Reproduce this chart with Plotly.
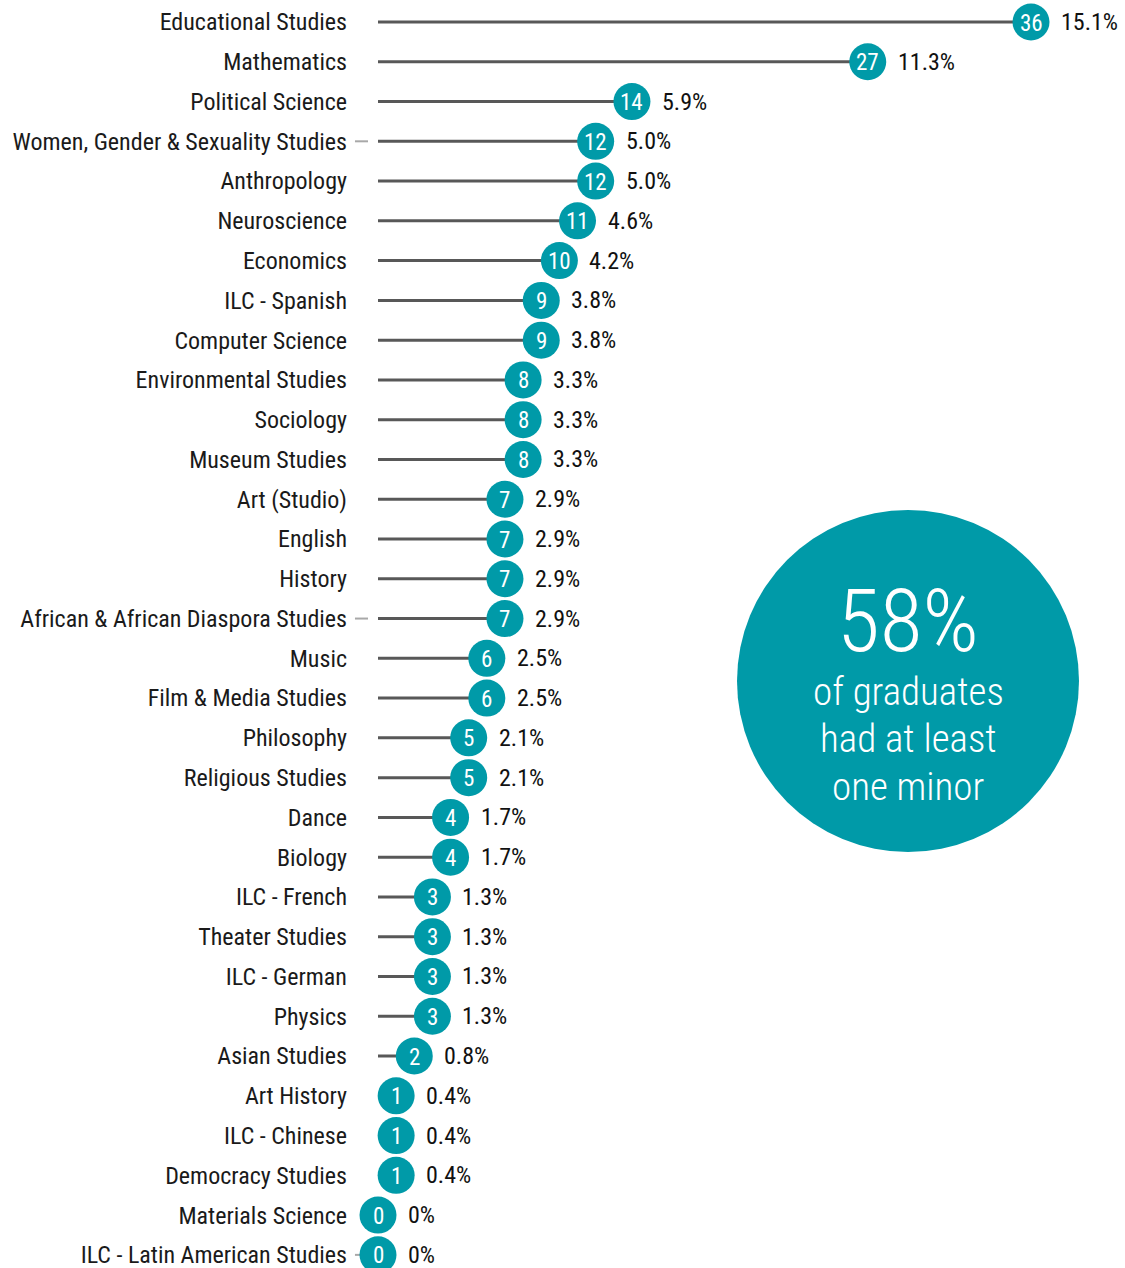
import plotly.graph_objects as go

categories = [
    "Educational Studies", "Mathematics", "Political Science",
    "Women, Gender & Sexuality Studies", "Anthropology", "Neuroscience",
    "Economics", "ILC - Spanish", "Computer Science", "Environmental Studies",
    "Sociology", "Museum Studies", "Art (Studio)", "English", "History",
    "African & African Diaspora Studies", "Music", "Film & Media Studies",
    "Philosophy", "Religious Studies", "Dance", "Biology", "ILC - French",
    "Theater Studies", "ILC - German", "Physics", "Asian Studies",
    "Art History", "ILC - Chinese", "Democracy Studies", "Materials Science",
    "ILC - Latin American Studies",
]
counts = [36, 27, 14, 12, 12, 11, 10, 9, 9, 8, 8, 8, 7, 7, 7, 7, 6, 6, 5, 5,
          4, 4, 3, 3, 3, 3, 2, 1, 1, 1, 0, 0]
percents = ["15.1%", "11.3%", "5.9%", "5.0%", "5.0%", "4.6%", "4.2%", "3.8%",
            "3.8%", "3.3%", "3.3%", "3.3%", "2.9%", "2.9%", "2.9%", "2.9%",
            "2.5%", "2.5%", "2.1%", "2.1%", "1.7%", "1.7%", "1.3%", "1.3%",
            "1.3%", "1.3%", "0.8%", "0.4%", "0.4%", "0.4%", "0%", "0%"]
leader_rows = ["Women, Gender & Sexuality Studies",
               "African & African Diaspora Studies",
               "ILC - Latin American Studies"]

FONT = "Roboto Condensed, Liberation Sans Narrow, DejaVu Sans Condensed, Arial Narrow, sans-serif"
TEAL = "#009AA8"
W, H = 1125, 1268

# geometry
x0_px = 378.0
px_per_unit = (1031 - 378) / 36.0
plot_left = 352
xmin = (plot_left - x0_px) / px_per_unit
xmax = (W - x0_px) / px_per_unit
row0_px, row_step = 22.0, 39.77
ymin = -row0_px / row_step
ymax = (H - row0_px) / row_step

ys = list(range(len(categories)))

fig = go.Figure()

# stems
sx, sy = [], []
for i, v in enumerate(counts):
    sx += [0, v, None]
    sy += [i, i, None]
fig.add_trace(go.Scatter(x=sx, y=sy, mode="lines",
                         line=dict(color="#585858", width=3),
                         hoverinfo="skip", showlegend=False))

# leader dashes for long labels
lx, ly = [], []
for i, c in enumerate(categories):
    if c in leader_rows:
        lx += [-1.27, -0.55, None]
        ly += [i, i, None]
fig.add_trace(go.Scatter(x=lx, y=ly, mode="lines",
                         line=dict(color="#A8A8A8", width=2),
                         hoverinfo="skip", showlegend=False))

# dots
fig.add_trace(go.Scatter(x=counts, y=ys, mode="markers",
                         marker=dict(size=37, color=TEAL, line=dict(width=0)),
                         cliponaxis=False, showlegend=False))

annotations = []
for i, (v, p) in enumerate(zip(counts, percents)):
    annotations.append(dict(x=v, y=i, xref="x", yref="y", text=str(v), showarrow=False,
                            xanchor="center", yanchor="middle", yshift=-1,
                            font=dict(family=FONT, size=23, color="white", weight=400)))
    annotations.append(dict(x=v, y=i, xref="x", yref="y", text=p, showarrow=False,
                            xanchor="left", yanchor="middle", xshift=28,
                            font=dict(family=FONT, size=24, color="#111111", weight=400)))

# callout circle
cx, cy, r = 908, 681, 171
fig.add_shape(type="circle", xref="paper", yref="paper",
              x0=(cx - r - plot_left) / (W - plot_left), x1=(cx + r - plot_left) / (W - plot_left),
              y0=(H - (cy + r)) / H, y1=(H - (cy - r)) / H,
              fillcolor=TEAL, line=dict(width=0), layer="below")

def pap(xp, yp):
    return (xp - plot_left) / (W - plot_left), (H - yp) / H

callout = [("58%", 620, 88), ("of graduates", 692, 39), ("had at least", 739, 39),
           ("one minor", 787, 39)]
for txt, yp, fs in callout:
    px, py = pap(cx, yp)
    annotations.append(dict(x=px, y=py, xref="paper", yref="paper", text=txt,
                            showarrow=False, xanchor="center", yanchor="middle",
                            font=dict(family=FONT, size=fs, color="white", weight=300)))

fig.update_layout(
    width=W, height=H,
    margin=dict(l=plot_left, r=0, t=0, b=0),
    paper_bgcolor="white", plot_bgcolor="white",
    xaxis=dict(range=[xmin, xmax], visible=False, fixedrange=True),
    yaxis=dict(range=[ymax, ymin], tickmode="array", tickvals=ys, ticktext=categories,
               showgrid=False, zeroline=False, showline=False, ticks="",
               ticklabelstandoff=4, ticklabeloverflow="allow",
               tickfont=dict(family=FONT, size=24, color="#1a1a1a", weight=400)),
    annotations=annotations,
    font=dict(family=FONT),
)

fig.write_html("out.html", config={"displayModeBar": False},
               post_script="document.body.style.margin='0';document.body.style.overflow='hidden';")
